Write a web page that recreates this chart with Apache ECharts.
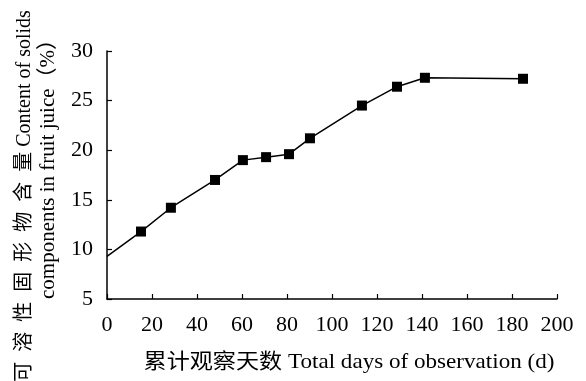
<!DOCTYPE html>
<html>
<head>
<meta charset="utf-8">
<script src="https://cdn.jsdelivr.net/npm/echarts@6/dist/echarts.min.js"></script>
<style>html,body{margin:0;padding:0;background:#fff;}#c{width:586px;height:381px;}</style>
</head>
<body>
<div id="c"></div>
<script>
var days = [0, 15.1, 28.4, 48, 60.4, 70.7, 80.9, 90.2, 113.3, 128.9, 141.3, 184.9];
var solids = [9.3, 11.8, 14.2, 17.0, 19.0, 19.3, 19.6, 21.2, 24.5, 26.4, 27.3, 27.2];
var xTicks = [0, 20, 40, 60, 80, 100, 120, 140, 160, 180, 200];
var yTicks = [5, 10, 15, 20, 25, 30];
var xTitle = '累计观察天数 Total days of observation (d)';
var yTitle1 = '可\u2002溶\u2002性\u2002固\u2002形\u2002物\u2002含\u2002量 Content of solids';
var yTitle2 = 'components in fruit juice（%）';

var FONT = '"Liberation Serif", "Times New Roman", "Noto Sans CJK SC", serif';
var chart = echarts.init(document.getElementById('c'));
var seriesData = days.map(function (d, i) {
  var item = { value: [d, solids[i]] };
  if (i === 0) item.symbol = 'none';
  return item;
});
chart.setOption({
  animation: false,
  backgroundColor: '#fff',
  grid: { left: 107, right: 29, top: 51, bottom: 82 },
  xAxis: {
    type: 'value', min: xTicks[0], max: xTicks[xTicks.length - 1], interval: 20,
    axisLine: { lineStyle: { color: '#000', width: 1.5 } },
    axisTick: { inside: true, length: 5, lineStyle: { color: '#000', width: 1.2 } },
    axisLabel: { color: '#000', fontFamily: FONT, fontSize: 22, margin: 15 },
    splitLine: { show: false }
  },
  yAxis: {
    type: 'value', min: yTicks[0], max: yTicks[yTicks.length - 1], interval: 5,
    axisLine: { show: true, lineStyle: { color: '#000', width: 1.5 } },
    axisTick: { show: true, inside: true, length: 5, lineStyle: { color: '#000', width: 1.2 } },
    axisLabel: { color: '#000', fontFamily: FONT, fontSize: 22, margin: 14 },
    splitLine: { show: false }
  },
  graphic: [
    { type: 'text', x: 349, y: 362, scaleX: 1.1,
      style: { text: xTitle, font: '21px ' + FONT, fill: '#000', align: 'center', verticalAlign: 'middle' } },
    { type: 'text', x: 25, y: 196, rotation: Math.PI / 2,
      style: { text: yTitle1, font: '20px ' + FONT, fill: '#000', align: 'center', verticalAlign: 'middle' } },
    { type: 'text', x: 48, y: 164, rotation: Math.PI / 2,
      style: { text: yTitle2, font: '21px ' + FONT, fill: '#000', align: 'center', verticalAlign: 'middle' } }
  ],
  series: [{
    type: 'line',
    data: seriesData,
    symbol: 'rect', symbolSize: 10,
    itemStyle: { color: '#000' },
    lineStyle: { color: '#000', width: 1.5 }
  }]
});
</script>
</body>
</html>
